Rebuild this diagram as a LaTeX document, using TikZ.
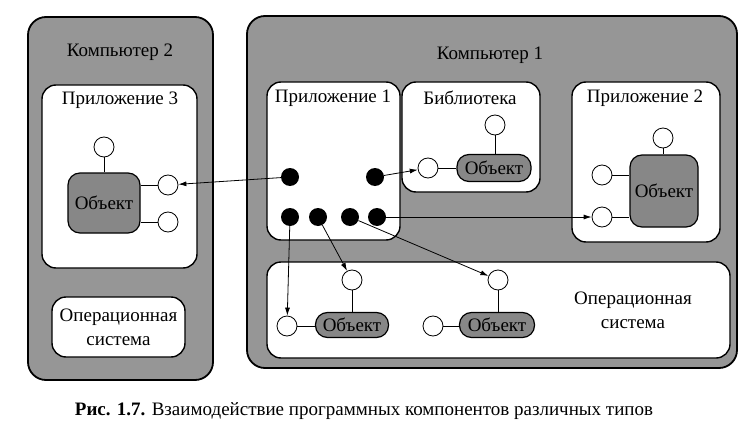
\documentclass[tikz,border=0pt]{standalone}
\usepackage{fontspec}
\setmainfont{Liberation Serif}
\newfontfamily\labelfont{Liberation Serif}
\usepackage{tikz}
\usetikzlibrary{arrows.meta, positioning}
\definecolor{compgray}{RGB}{150,150,150}
\definecolor{objgray}{RGB}{135,135,135}

\begin{document}
\begin{tikzpicture}[
    x=1pt, y=-1pt,
    every node/.style={font=\labelfont\fontsize{19}{24}\selectfont},
    computer/.style={rectangle, draw, line width=1.8pt, rounded corners=18pt, fill=compgray, inner sep=0pt},
    appbox/.style={rectangle, draw, line width=1.4pt, rounded corners=14pt, fill=white, inner sep=0pt},
    object/.style={rectangle, draw, line width=1.2pt, rounded corners=12pt, fill=objgray, inner sep=0pt},
    port/.style={circle, draw, fill=white, minimum size=20pt, inner sep=0pt, line width=0.8pt},
    dot/.style={circle, fill=black, minimum size=18pt, inner sep=0pt},
    arrow/.style={-{Latex[length=8pt, width=5pt]}, line width=0.8pt},
    link/.style={line width=0.8pt},
]
\useasboundingbox (0,0) rectangle (747,436);

\node[computer, minimum width=185pt, minimum height=363pt] (comp2) at (120.5,198.5) {};
\node (comp2lbl) at (120,52) {Компьютер 2};
\node[appbox, minimum width=155pt, minimum height=183pt] (app3) at (119.5,176.5) {};
\node (app3lbl) at (120,100) {Приложение 3};
\node[object, minimum width=72pt, minimum height=60pt] (obj3) at (104,203) {Объект};
\node[port] (p3top) at (104,147) {};
\node[port] (p3a) at (168,185) {};
\node[port] (p3b) at (168,222) {};
\node[appbox, align=center, minimum width=133pt, minimum height=60pt] (os2) at (118.5,327) {Операционная\\система};

\node[computer, minimum width=490pt, minimum height=352pt] (comp1) at (492,192) {};
\node (comp1lbl) at (490,55) {Компьютер 1};
\node[appbox, minimum width=133pt, minimum height=158pt] (app1) at (333.5,161) {};
\node (app1lbl) at (333,98) {Приложение 1};
\node[appbox, minimum width=138pt, minimum height=110pt] (lib) at (471,137) {};
\node (liblbl) at (470,98) {Библиотека};
\node[appbox, minimum width=148pt, minimum height=160pt] (app2) at (646,162) {};
\node (app2lbl) at (645,98) {Приложение 2};
\node[appbox, minimum width=463pt, minimum height=96pt] (os1) at (498.5,310) {};
\node[align=center] (os1lbl) at (633,310) {Операционная\\система};

\node[object, minimum width=74pt, minimum height=27pt] (objlib) at (494,168) {Объект};
\node[port] (plibtop) at (495,125) {};
\node[port] (plib) at (428,168) {};

\node[object, minimum width=68pt, minimum height=72pt] (obj2) at (664,191) {Объект};
\node[port] (p2top) at (663,138) {};
\node[port] (p2a) at (602,175) {};
\node[port] (p2b) at (602,217) {};

\node[object, minimum width=73pt, minimum height=25pt] (objos1) at (352,325) {Объект};
\node[port] (pos1) at (287,326) {};
\node[port] (pos1top) at (352,280) {};
\node[object, minimum width=75pt, minimum height=25pt] (objos2) at (497,325) {Объект};
\node[port] (pos2) at (433,326) {};
\node[port] (pos2top) at (498,280) {};

\node[dot] (d1) at (290,177) {};
\node[dot] (d2) at (375,177) {};
\node[dot] (d3) at (290,217) {};
\node[dot] (d4) at (318,217) {};
\node[dot] (d5) at (350,217) {};
\node[dot] (d6) at (377,217) {};

\draw[link] (p3top) -- (p3top |- obj3.north);
\draw[link] (p3a) -- (p3a -| obj3.east);
\draw[link] (p3b) -- (p3b -| obj3.east);
\draw[link] (plibtop) -- (plibtop |- objlib.north);
\draw[link] (plib) -- (plib -| objlib.west);
\draw[link] (p2top) -- (p2top |- obj2.north);
\draw[link] (p2a) -- (p2a -| obj2.west);
\draw[link] (p2b) -- (p2b -| obj2.west);
\draw[link] (pos1) -- (pos1 -| objos1.west);
\draw[link] (pos1top) -- (pos1top |- objos1.north);
\draw[link] (pos2) -- (pos2 -| objos2.west);
\draw[link] (pos2top) -- (pos2top |- objos2.north);

\draw[arrow] (d1) -- (p3a);
\draw[arrow] (d2) -- (plib);
\draw[arrow] (d6) -- (p2b);
\draw[arrow] (d3) -- (pos1);
\draw[arrow] (d4) -- (pos1top);
\draw[arrow] (d5) -- (pos2top);

\node (caption) at (364,411) {\textbf{Рис. 1.7.} Взаимодействие программных компонентов различных типов};
\end{tikzpicture}
\end{document}
